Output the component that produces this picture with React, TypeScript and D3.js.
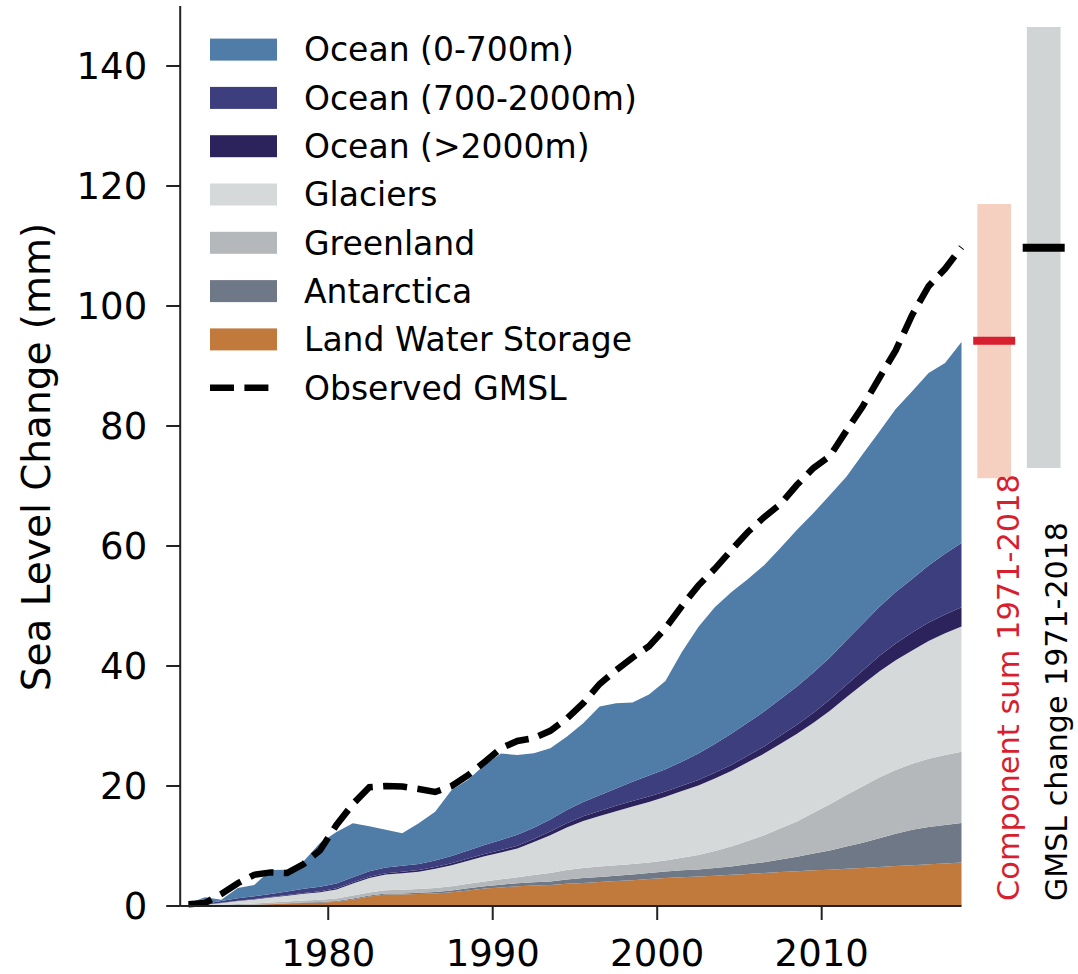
import React from "react";
import * as d3 from "d3";

const years = d3.range(1971.5, 2019, 1);

const landWater = [0, 0.05, 0.1, 0.15, 0.2, 0.3, 0.4, 0.5, 0.55, 0.7, 1.1, 1.6, 1.9, 1.9, 2.0, 2.1, 2.3, 2.6, 2.9, 3.1, 3.3, 3.4, 3.5, 3.7, 3.85, 4.0, 4.15, 4.3, 4.5, 4.65, 4.8, 4.9, 5.05, 5.2, 5.35, 5.5, 5.65, 5.8, 5.95, 6.05, 6.2, 6.35, 6.5, 6.65, 6.8, 6.95, 7.1, 7.25];
const antarctica = [0, 0, 0, 0.02, 0.03, 0.05, 0.06, 0.08, 0.1, 0.12, 0.14, 0.16, 0.18, 0.2, 0.22, 0.25, 0.3, 0.35, 0.4, 0.45, 0.5, 0.55, 0.6, 0.7, 0.8, 0.85, 0.9, 0.95, 1.0, 1.1, 1.15, 1.2, 1.3, 1.4, 1.6, 1.8, 2.1, 2.4, 2.8, 3.2, 3.7, 4.2, 4.8, 5.4, 5.9, 6.2, 6.4, 6.6];
const greenland = [0, 0.05, 0.1, 0.15, 0.2, 0.25, 0.3, 0.35, 0.4, 0.45, 0.5, 0.5, 0.55, 0.6, 0.6, 0.65, 0.7, 0.75, 0.8, 0.9, 1.0, 1.2, 1.4, 1.6, 1.7, 1.75, 1.75, 1.75, 1.75, 1.85, 2.1, 2.4, 2.8, 3.3, 3.9, 4.5, 5.2, 5.9, 6.8, 7.7, 8.6, 9.4, 10.1, 10.6, 11.0, 11.4, 11.65, 11.85];
const glaciers = [0, 0.1, 0.3, 0.5, 0.65, 0.8, 0.95, 1.1, 1.25, 1.5, 2.0, 2.4, 2.6, 2.75, 2.9, 3.2, 3.5, 3.85, 4.2, 4.45, 4.8, 5.5, 6.3, 7.1, 7.8, 8.4, 9.0, 9.6, 10.1, 10.6, 11.1, 11.6, 12.1, 12.6, 13.1, 13.6, 14.1, 14.6, 15.0, 15.6, 16.3, 17.0, 17.7, 18.3, 18.9, 19.6, 20.3, 20.9];
const oceanDeep = [0, 0.02, 0.04, 0.06, 0.08, 0.1, 0.12, 0.14, 0.16, 0.18, 0.2, 0.22, 0.24, 0.26, 0.28, 0.3, 0.32, 0.35, 0.38, 0.42, 0.46, 0.5, 0.6, 0.7, 0.8, 0.85, 0.9, 0.9, 0.9, 0.9, 0.9, 0.9, 0.95, 1.0, 1.1, 1.2, 1.35, 1.5, 1.65, 1.85, 2.05, 2.3, 2.55, 2.8, 3.0, 3.1, 3.15, 3.2];
const oceanMid = [0, 0.15, 0.3, 0.4, 0.45, 0.5, 0.6, 0.7, 0.75, 0.8, 0.85, 0.9, 0.95, 1.0, 1.0, 1.1, 1.2, 1.35, 1.5, 1.7, 1.8, 1.9, 2.0, 2.2, 2.4, 2.6, 2.9, 3.2, 3.5, 3.7, 4.0, 4.4, 4.8, 5.2, 5.5, 5.8, 6.1, 6.4, 6.7, 7.0, 7.4, 7.8, 8.2, 8.6, 8.9, 9.5, 10.1, 10.7];
const oceanUpper = [0.4, 1.1, 0.2, 1.7, 1.9, 4.0, 3.6, 4.6, 7.3, 8.6, 9.0, 7.5, 6.3, 5.4, 6.8, 8.1, 11.0, 11.8, 13.3, 14.4, 13.3, 12.4, 11.9, 12.2, 13.1, 14.8, 14.2, 13.2, 13.5, 14.7, 18.3, 21.1, 22.8, 23.6, 23.9, 24.4, 25.2, 26.1, 26.6, 27.1, 27.3, 28.3, 29.2, 30.5, 31.3, 32.1, 31.8, 33.5];
const observedGMSL = [0.3, 0.5, 2.0, 3.8, 5.2, 5.6, 5.5, 7.0, 9.3, 13.5, 17.0, 19.8, 20.0, 19.9, 19.5, 19.0, 20.0, 21.8, 24.0, 26.3, 27.5, 28.0, 29.2, 31.2, 33.8, 37.0, 39.3, 41.4, 43.3, 46.3, 50.0, 53.4, 56.2, 59.3, 62.3, 64.8, 67.0, 70.2, 73.0, 75.0, 79.2, 83.3, 88.0, 92.6, 98.5, 103.3, 106.2, 109.8];

const componentKeys = ["landWater", "antarctica", "greenland", "glaciers", "oceanDeep", "oceanMid", "oceanUpper"];
const componentSeries: Record<string, number[]> = { landWater, antarctica, greenland, glaciers, oceanDeep, oceanMid, oceanUpper };
const componentColors: Record<string, string> = {
  oceanUpper: "#507ca8",
  oceanMid: "#3c3e7e",
  oceanDeep: "#2d235c",
  glaciers: "#d6d9da",
  greenland: "#b4b8bb",
  antarctica: "#6f7886",
  landWater: "#c17a3c",
};
const legendKeys = ["oceanUpper", "oceanMid", "oceanDeep", "glaciers", "greenland", "antarctica", "landWater"];
const legendLabels = ["Ocean (0-700m)", "Ocean (700-2000m)", "Ocean (>2000m)", "Glaciers", "Greenland", "Antarctica", "Land Water Storage", "Observed GMSL"];

const xTicks = [1980, 1990, 2000, 2010];
const yTicks = [0, 20, 40, 60, 80, 100, 120, 140];

const summaryNames = ["sum", "gmsl"];
const summaryLow = [71.3, 73.0];
const summaryMid = [94.2, 109.7];
const summaryHigh = [117.0, 146.5];
const summaryLabels = ["Component sum 1971-2018", "GMSL change 1971-2018"];

export default function App() {
  const W = 1078, H = 974;
  const x = d3.scaleLinear().domain([1971, 2018.5]).range([180.2, 961.5]);
  const y = d3.scaleLinear().domain([0, 150]).range([906, 6]);
  const font = "DejaVu Sans, sans-serif";

  const table = years.map((yr, i) => {
    const row: any = { year: yr };
    componentKeys.forEach((k) => (row[k] = componentSeries[k][i]));
    return row;
  });
  const stacked = d3.stack().keys(componentKeys)(table as any);
  const area = d3
    .area<any>()
    .x((d) => x(d.data.year))
    .y0((d) => y(d[0]))
    .y1((d) => y(d[1]));
  const line = d3
    .line<number>()
    .x((_, i) => x(years[i]))
    .y((d) => y(d));

  const sx = d3.scalePoint().domain(summaryNames).range([994.2, 1043.7]);
  const barW = 33.7;
  const markColors = ["#d71f30", "#000000"];
  const barColors = ["#f5cfbf", "#d1d4d5"];
  const labelColors = ["#d71f30", "#000000"];
  const labelBaselineX = [1019, 1066.5];
  const labelLen = [427, 379];

  const legendY = d3.scaleLinear().domain([0, 1]).range([49.6, 97.9]);

  return (
    <svg width={W} height={H} style={{ position: "absolute", left: 0, top: 0, background: "#fff" }} fontFamily={font}>
      {stacked.map((s) => (
        <path key={s.key} d={area(s as any) || ""} fill={componentColors[s.key]} />
      ))}
      <path d={line(observedGMSL) || ""} fill="none" stroke="#000" strokeWidth={6.5} strokeDasharray="24 10.4" />

      {/* axes */}
      <line x1={x.range()[0]} x2={x.range()[0]} y1={y(150)} y2={y(0)} stroke="#222" strokeWidth={2} />
      <line x1={x.range()[0]} x2={x(2018.5)} y1={y(0)} y2={y(0)} stroke="#222" strokeWidth={2} />
      {yTicks.map((t) => (
        <g key={t}>
          <line x1={x.range()[0] - 14} x2={x.range()[0]} y1={y(t)} y2={y(t)} stroke="#222" strokeWidth={2} />
          <text x={x.range()[0] - 33} y={y(t)} dy="0.36em" textAnchor="end" fontSize={37} fill="#000">
            {t}
          </text>
        </g>
      ))}
      {xTicks.map((t) => (
        <g key={t}>
          <line x1={x(t)} x2={x(t)} y1={y(0)} y2={y(0) + 14} stroke="#222" strokeWidth={2} />
          <text x={x(t)} y={966} textAnchor="middle" fontSize={37} fill="#000">
            {t}
          </text>
        </g>
      ))}
      <text transform={`translate(50,457) rotate(-90)`} textAnchor="middle" fontSize={39} fill="#000">
        Sea Level Change (mm)
      </text>

      {/* legend */}
      {legendKeys.map((k, i) => (
        <g key={k}>
          <rect x={210} y={legendY(i) - 11} width={67} height={22} fill={componentColors[k]} />
          <text x={304} y={legendY(i)} dy="0.36em" fontSize={33} fill="#000">
            {legendLabels[i]}
          </text>
        </g>
      ))}
      <line x1={210} x2={270} y1={legendY(7)} y2={legendY(7)} stroke="#000" strokeWidth={6.5} strokeDasharray="24 10.4" />
      <text x={304} y={legendY(7)} dy="0.36em" fontSize={33} fill="#000">
        {legendLabels[7]}
      </text>

      {/* summary bars */}
      {summaryNames.map((n, i) => (
        <g key={n}>
          <rect x={(sx(n) as number) - barW / 2} y={y(summaryHigh[i])} width={barW} height={y(summaryLow[i]) - y(summaryHigh[i])} fill={barColors[i]} />
          <line x1={(sx(n) as number) - 21} x2={(sx(n) as number) + 21} y1={y(summaryMid[i])} y2={y(summaryMid[i])} stroke={markColors[i]} strokeWidth={8} />
          <text
            transform={`translate(${labelBaselineX[i]},901) rotate(-90)`}
            textAnchor="start"
            fontSize={31}
            fill={labelColors[i]}
            textLength={labelLen[i]}
            lengthAdjust="spacingAndGlyphs"
          >
            {summaryLabels[i]}
          </text>
        </g>
      ))}
    </svg>
  );
}
